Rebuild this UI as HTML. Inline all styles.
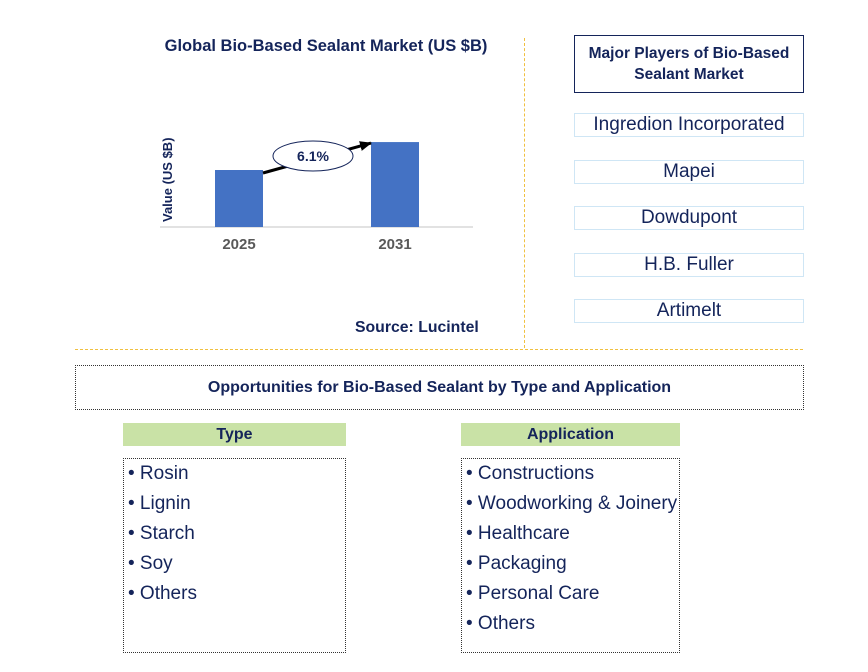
<!DOCTYPE html>
<html><head><meta charset="utf-8"><style>
body{margin:0;width:868px;height:672px;background:#fff;font-family:"Liberation Sans",sans-serif;position:relative;overflow:hidden}
.a{position:absolute;box-sizing:border-box}
.t{color:#14245a;font-weight:bold}
.pl{left:574px;width:230px;height:24px;border:1.5px solid #cfe6f5;color:#14245a;font-size:19px;text-align:center;line-height:22px}
.hd{background:#c9e2a6;color:#14245a;font-weight:bold;font-size:16px;text-align:center;line-height:23px;height:23px}
.lst{border:1px dotted #333;color:#14245a;font-size:19px;padding:0 0 0 4px;line-height:30px}
</style></head><body>
<div class="a t" style="left:140px;top:37px;width:372px;text-align:center;font-size:16.5px">Global Bio-Based Sealant Market (US $B)</div>
<svg class="a" style="left:0;top:0" width="868" height="672">
<defs><marker id="ah" markerUnits="userSpaceOnUse" markerWidth="12" markerHeight="10" refX="11" refY="5" orient="auto"><path d="M0,0L12,5L0,10z" fill="#000"/></marker></defs>
<g id="g"></g>
</svg>
<div class="a t" style="left:355px;top:319px;font-size:15.8px">Source: Lucintel</div>
<div class="a" style="left:524px;top:38px;height:310px;border-left:1px dashed #f0c040"></div>
<div class="a" style="left:75px;top:349px;width:728px;border-top:1px dashed #f0c040"></div>
<div class="a t" style="left:574px;top:35px;width:230px;height:58px;border:1.5px solid #14245a;text-align:center;font-size:15.5px;line-height:21px;padding-top:7px">Major Players of Bio-Based Sealant Market</div>
<div class="a pl" style="top:113px">Ingredion Incorporated</div>
<div class="a pl" style="top:160px">Mapei</div>
<div class="a pl" style="top:206px">Dowdupont</div>
<div class="a pl" style="top:253px">H.B. Fuller</div>
<div class="a pl" style="top:299px">Artimelt</div>
<div class="a t" style="left:75px;top:365px;width:729px;height:45px;border:1px dotted #333;text-align:center;line-height:43px;font-size:16px">Opportunities for Bio-Based Sealant by Type and Application</div>
<div class="a hd" style="left:123px;top:423px;width:223px">Type</div>
<div class="a lst" style="left:123px;top:458px;width:223px;height:195px">• Rosin<br>• Lignin<br>• Starch<br>• Soy<br>• Others</div>
<div class="a hd" style="left:461px;top:423px;width:219px">Application</div>
<div class="a lst" style="left:461px;top:458px;width:219px;height:195px">• Constructions<br>• Woodworking &amp; Joinery<br>• Healthcare<br>• Packaging<br>• Personal Care<br>• Others</div>
<script>
const categories=["2025","2031"];
const values=[1.0,1.49];
const cagr="6.1%";
const NS="http://www.w3.org/2000/svg",g=document.getElementById('g');
const base=227,k=57,xc=[239,395],bw=48;
const y=v=>base-v*k;
function mk(t,a){const e=document.createElementNS(NS,t);for(const n in a)e.setAttribute(n,a[n]);g.appendChild(e);return e;}
let ax=mk('line',{x1:160,x2:473,y1:base,y2:base,stroke:'#d9d9d9','stroke-width':1.5});


categories.forEach((c,i)=>{
 let r=mk('rect',{x:xc[i]-bw/2,y:y(values[i]),width:bw,height:values[i]*k,fill:'#4472c4'});
 
 
 let t=mk('text',{x:xc[i],y:249,'text-anchor':'middle','font-size':15,'font-weight':'bold',fill:'#595959'});
 t.textContent=c;
 
 
});
let x1=xc[0]+bw/2,y1=y(values[0])+3,x2=xc[1]-bw/2,y2=y(values[1])+1;
let ar=mk('line',{x1:x1,y1:y1,x2:x2,y2:y2,stroke:'#000','stroke-width':3,'marker-end':'url(#ah)'});


let mx=(x1+x2)/2-4,my=(y1+y2)/2-2;
let el=mk('ellipse',{cx:mx,cy:my,rx:40,ry:15,fill:'#fff',stroke:'#14245a'});


let ct=mk('text',{x:mx,y:my+5,'text-anchor':'middle','font-size':14,'font-weight':'bold',fill:'#14245a'});
ct.textContent=cagr;


let yt=mk('text',{x:0,y:0,transform:'translate(172,222) rotate(-90)','font-size':13,'font-weight':'bold',fill:'#14245a'});
yt.textContent='Value (US $B)';


</script>
</body></html>
